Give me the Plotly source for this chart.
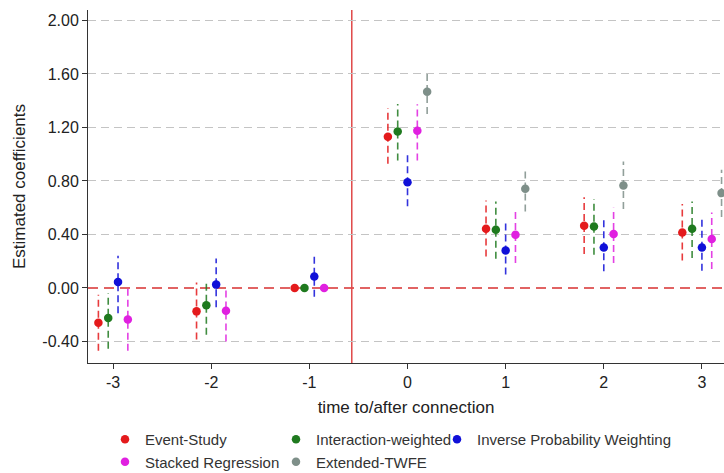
import plotly.graph_objects as go

# Event time relative to connection
periods = [-3, -2, -1, 0, 1, 2, 3]
twfe_periods = [0, 1, 2, 3]

# Point estimates and 95% confidence bounds (None = reference period, no interval)
es_est = [-0.26, -0.175, 0.0, 1.13, 0.443, 0.465, 0.415]
es_lo = [-0.47, -0.385, None, 0.928, 0.236, 0.254, 0.206]
es_hi = [-0.05, 0.04, None, 1.343, 0.654, 0.679, 0.627]

iw_est = [-0.225, -0.13, 0.0, 1.17, 0.435, 0.46, 0.443]
iw_lo = [-0.455, -0.35, None, 0.952, 0.219, 0.248, 0.224]
iw_hi = [-0.04, 0.06, None, 1.375, 0.646, 0.664, 0.646]

ipw_est = [0.045, 0.025, 0.085, 0.79, 0.28, 0.303, 0.303]
ipw_lo = [-0.19, -0.145, -0.065, 0.61, 0.10, 0.124, 0.129]
ipw_hi = [0.24, 0.22, 0.25, 1.0, 0.50, 0.52, 0.51]

sr_est = [-0.235, -0.17, 0.0, 1.176, 0.398, 0.403, 0.366]
sr_lo = [-0.47, -0.40, None, 0.952, 0.187, 0.187, 0.142]
sr_hi = [0.0, 0.01, None, 1.373, 0.597, 0.60, 0.564]

twfe_est = [1.467, 0.741, 0.766, 0.709]
twfe_lo = [1.30, 0.572, 0.59, 0.53]
twfe_hi = [1.60, 0.883, 0.945, 0.883]

y_ticks = [-0.4, 0.0, 0.4, 0.8, 1.2, 1.6, 2.0]
x_ticks = [-3, -2, -1, 0, 1, 2, 3]

series = [
    dict(name="Event-Study", x=periods, est=es_est, lo=es_lo, hi=es_hi,
         color="#e41a1c", legend="legend"),
    dict(name="Interaction-weighted", x=periods, est=iw_est, lo=iw_lo, hi=iw_hi,
         color="#1f7a1f", legend="legend2"),
    dict(name="Inverse Probability Weighting", x=periods, est=ipw_est, lo=ipw_lo, hi=ipw_hi,
         color="#1010d8", legend="legend3"),
    dict(name="Stacked Regression", x=periods, est=sr_est, lo=sr_lo, hi=sr_hi,
         color="#e020e0", legend="legend"),
    dict(name="Extended-TWFE", x=twfe_periods, est=twfe_est, lo=twfe_lo, hi=twfe_hi,
         color="#7e8f89", legend="legend2"),
]

# Dodge estimators side by side around each period
step = 0.1
present = {}
for i, s in enumerate(series):
    for p in s["x"]:
        present.setdefault(p, []).append(i)


def dodge(i, p):
    members = present[p]
    k = members.index(i)
    return p + (k - (len(members) - 1) / 2) * step


fig = go.Figure()

for i, s in enumerate(series):
    xs = [dodge(i, p) for p in s["x"]]
    cx, cy = [], []
    for xv, lo, hi in zip(xs, s["lo"], s["hi"]):
        if lo is None or hi is None:
            continue
        cx += [xv, xv, None]
        cy += [lo, hi, None]
    fig.add_trace(go.Scatter(
        x=cx, y=cy, mode="lines", showlegend=False, hoverinfo="skip",
        line=dict(color=s["color"], width=1.6, dash="7px,4px"), opacity=0.85,
    ))

for i, s in enumerate(series):
    xs = [dodge(i, p) for p in s["x"]]
    fig.add_trace(go.Scatter(
        x=xs, y=s["est"], mode="markers", name=s["name"], legend=s["legend"],
        marker=dict(color=s["color"], size=8.5, line=dict(width=0)),
    ))

# Reference lines: zero effect and treatment onset
fig.add_shape(type="line", xref="paper", x0=0, x1=1, yref="y", y0=0, y1=0,
              line=dict(color="#d83030", width=1.5, dash="10px,6px"), layer="below")
fig.add_shape(type="line", xref="x", x0=-0.568, x1=-0.568, yref="paper", y0=0, y1=1,
              line=dict(color="#e04848", width=1.5), layer="below")

font_family = "Liberation Sans, Arial, sans-serif"

# Plot area in pixels, used to place the legend columns below it
left, right, top, bottom = 88, 724, 10, 363


def px_x(v):
    return (v - left) / (right - left)


def px_y(v):
    return (bottom - v) / (bottom - top)


legend_common = dict(
    orientation="v", yanchor="top", xanchor="left", y=px_y(423),
    font=dict(family=font_family, size=15, color="#333333"),
    bgcolor="rgba(0,0,0,0)", borderwidth=0, itemwidth=30,
)

fig.update_layout(
    width=724, height=473,
    margin=dict(l=left, r=724 - right, t=top, b=473 - bottom, autoexpand=False),
    paper_bgcolor="white", plot_bgcolor="white",
    font=dict(family=font_family, color="#222222"),
    xaxis=dict(
        range=[-3.256, 3.225], tickvals=x_ticks, ticktext=[str(v) for v in x_ticks],
        showgrid=False, zeroline=False, showline=True, linecolor="#333333", linewidth=1,
        ticks="outside", ticklen=5, tickcolor="#333333",
        tickfont=dict(size=16, color="#222222"),
        title=dict(text="time to/after connection", font=dict(size=17), standoff=10),
    ),
    yaxis=dict(
        range=[-0.561, 2.078], tickvals=y_ticks, ticktext=[f"{v:.2f}" for v in y_ticks],
        showgrid=False, zeroline=False, showline=True, linecolor="#333333", linewidth=1,
        ticks="outside", ticklen=5, tickcolor="#333333",
        tickfont=dict(size=16, color="#222222"),
        title=dict(text="Estimated coefficients", font=dict(size=17), standoff=12),
        # dashed grid on every labelled level except zero, which carries the red reference line
        minor=dict(tickmode="array", tickvals=[v for v in y_ticks if v != 0], ticks="",
                   showgrid=True, gridcolor="#c4c4c4", gridwidth=1, griddash="8px,5px"),
    ),
    legend=dict(legend_common, x=px_x(105)),
    legend2=dict(legend_common, x=px_x(276)),
    legend3=dict(legend_common, x=px_x(437)),
)

fig.write_html("out.html")
